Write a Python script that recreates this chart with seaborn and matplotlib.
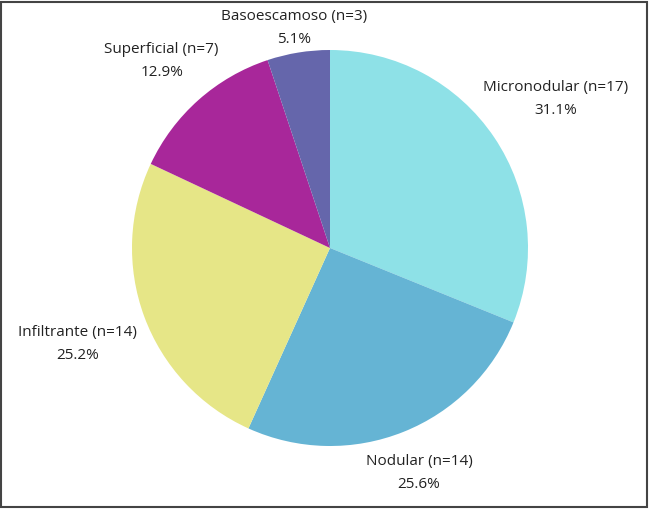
import numpy as np
import matplotlib
matplotlib.use("Agg")
import matplotlib.pyplot as plt
import seaborn as sns
from matplotlib.patches import Rectangle

# data
categories = ["Micronodular", "Nodular", "Infiltrante", "Superficial", "Basoescamoso"]
counts = [17, 14, 14, 7, 3]
percents = [31.1, 25.6, 25.2, 12.9, 5.1]

colors = sns.color_palette(["#8EE1E7", "#65B4D4", "#E6E687", "#A8279A", "#6566AB"])
# how far each label sits from the centre (in radii)
label_dist = [1.375, 1.21, 1.36, 1.28, 1.14]

sns.set_theme(style="white")
plt.rcParams['font.family'] = ['Open Sans', 'DejaVu Sans']

fig = plt.figure(figsize=(6.5, 5.09), dpi=100)
ax = fig.add_axes([0, 0, 1, 1])

wedges, _ = ax.pie(percents, colors=colors, startangle=90, counterclock=False,
                   radius=1.0, center=(0, 0),
                   wedgeprops=dict(linewidth=0, edgecolor="none"))

for w, cat, n, p, d in zip(wedges, categories, counts, percents, label_dist):
    ang = np.deg2rad((w.theta1 + w.theta2) / 2)
    ax.annotate(f"{cat} (n={n})\n{p:.1f}%",
                xy=(d * np.cos(ang), d * np.sin(ang)),
                xytext=(0, -2), textcoords="offset points",
                ha="center", va="center", fontsize=11, color="#222222",
                linespacing=1.7)

scale = 198
ax.set_xlim(-330 / scale, 320 / scale)
ax.set_ylim(-261 / scale, 248 / scale)
ax.set_aspect("auto")
ax.axis("off")

fig.patches.append(Rectangle((0.002, 0.003), 0.994, 0.993, transform=fig.transFigure,
                             fill=False, edgecolor="#444444", linewidth=1.5))

fig.savefig("out.png", dpi=100)
